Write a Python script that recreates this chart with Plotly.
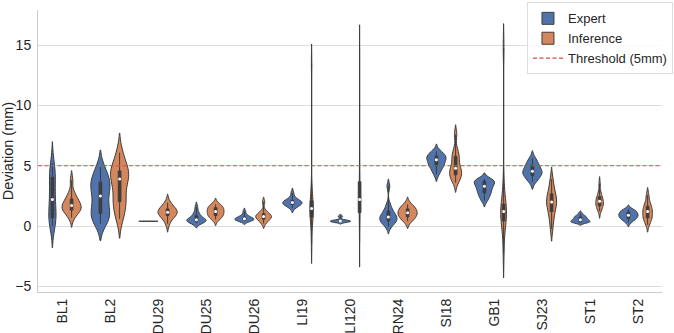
import numpy as np
import plotly.graph_objects as go

categories = ["BL1", "BL2", "DU29", "DU25", "DU26", "LI19", "LI120", "RN24",
              "SI18", "GB1", "SJ23", "ST1", "ST2"]

expert = {
    "BL1": [0.0, 0.4, 0.6, 0.7, 1.2, 1.8, 2.2, 2.7, 3.3, 4.0, 4.2, 4.7, 5.2],
    "BL2": [0.2, 0.5, 0.9, 1.1, 1.5, 2.0, 2.5, 2.9, 3.3, 3.6, 3.8, 4.3, 4.9],
    "DU29": [0.4, 0.4, 0.4, 0.4, 0.4, 0.4, 0.4, 0.4],
    "DU25": [0.25, 0.3, 0.35, 0.4, 0.45, 0.5, 0.5, 0.55, 0.6, 0.7, 0.85, 1.0, 1.2, 1.6],
    "DU26": [0.45, 0.45, 0.5, 0.5, 0.55, 0.6, 0.6, 0.65, 0.7, 0.8, 0.9, 1.2],
    "LI19": [1.5, 1.65, 1.75, 1.8, 1.85, 1.9, 1.95, 2.0, 2.05, 2.1, 2.2, 2.35, 2.75],
    "LI120": [0.3, 0.33, 0.36, 0.38, 0.4, 0.41, 0.43, 0.45, 0.48, 0.52, 0.75, 0.85],
    "RN24": [-0.05, 0.2, 0.35, 0.45, 0.55, 0.65, 0.75, 0.85, 1.0, 1.2, 1.4, 1.8, 3.3],
    "SI18": [4.3, 4.6, 4.9, 5.0, 5.1, 5.3, 5.5, 5.55, 5.65, 5.8, 5.9, 6.0, 6.2],
    "GB1": [2.1, 2.4, 2.6, 2.8, 2.95, 3.1, 3.3, 3.4, 3.5, 3.7, 3.75, 3.8, 3.9],
    "SJ23": [3.65, 3.9, 4.1, 4.2, 4.35, 4.45, 4.55, 4.65, 4.8, 5.0, 5.15, 5.35, 5.65],
    "ST1": [0.27, 0.3, 0.33, 0.36, 0.4, 0.45, 0.5, 0.55, 0.6, 0.68, 0.75, 0.8, 0.88, 1.06],
    "ST2": [0.31, 0.5, 0.6, 0.65, 0.75, 0.85, 0.9, 0.95, 1.05, 1.15, 1.2, 1.3, 1.39],
}

inference = {
    "BL1": [0.7, 1.0, 1.2, 1.3, 1.4, 1.5, 1.6, 1.7, 1.8, 1.9, 2.1, 2.3, 2.5, 2.8, 3.8],
    "BL2": [0.6, 1.2, 1.8, 2.1, 2.6, 3.2, 3.9, 4.1, 4.3, 4.5, 4.8, 5.4, 6.1],
    "DU29": [0.2, 0.6, 0.8, 0.9, 1.0, 1.1, 1.15, 1.2, 1.3, 1.4, 1.5, 1.7, 1.95],
    "DU25": [0.55, 0.7, 0.8, 0.9, 1.0, 1.1, 1.2, 1.3, 1.4, 1.5, 1.6, 1.7, 1.8],
    "DU26": [0.2, 0.4, 0.5, 0.6, 0.7, 0.75, 0.8, 0.85, 0.9, 1.0, 1.1, 1.3, 2.0],
    "LI19": [-1.5, 0.0, 0.6, 0.8, 1.0, 1.2, 1.45, 1.6, 1.8, 2.0, 2.4, 3.2, 13.5],
    "LI120": [-1.4, 0.3, 0.9, 1.2, 1.6, 2.0, 2.2, 2.6, 3.0, 3.4, 4.5, 6.0, 14.7],
    "RN24": [0.4, 0.55, 0.7, 0.8, 0.9, 1.0, 1.1, 1.2, 1.3, 1.4, 1.5, 1.65, 1.8],
    "SI18": [3.6, 3.9, 4.1, 4.3, 4.4, 4.6, 4.8, 5.0, 5.4, 5.75, 5.9, 6.4, 7.6],
    "GB1": [-2.3, -0.5, 0.2, 0.5, 0.8, 1.0, 1.2, 1.35, 1.5, 1.7, 2.2, 3.5, 14.8],
    "SJ23": [-0.25, 0.5, 0.9, 1.3, 1.6, 1.8, 2.0, 2.15, 2.35, 2.6, 2.9, 3.3, 3.9],
    "ST1": [1.25, 1.45, 1.6, 1.7, 1.8, 1.95, 2.05, 2.1, 2.2, 2.4, 2.55, 2.8, 3.5],
    "ST2": [0.1, 0.4, 0.6, 0.7, 0.85, 1.0, 1.2, 1.3, 1.45, 1.6, 1.8, 2.1, 2.6],
}

threshold = 5.0

# style: KDE bandwidths and violin widths (data units)
bw_expert = [0.9, 0.7, 0.01, 0.2, 0.15, 0.2, 0.07, 0.3, 0.3, 0.25, 0.3, 0.1, 0.18]
bw_infer = [0.4, 0.8, 0.35, 0.25, 0.2, 0.8, 1.0, 0.3, 0.4, 1.0, 0.5, 0.3, 0.3]
w_expert = [0.15, 0.4, 0.4, 0.4, 0.4, 0.4, 0.42, 0.36, 0.4, 0.42, 0.4, 0.4, 0.4]
w_infer = [0.4, 0.38, 0.4, 0.35, 0.33, 0.07, 0.02, 0.4, 0.25, 0.12, 0.21, 0.16, 0.2]

BLUE = "#5073AC"
ORANGE = "#D4865C"
EDGE = "#3d3d3d"
INNER = "#3d3d3d"
FONT = "Liberation Sans, Arial, sans-serif"

fig = go.Figure()

groups = [("Expert", expert, BLUE, -0.2, bw_expert, w_expert),
          ("Inference", inference, ORANGE, 0.2, bw_infer, w_infer)]

for name, data, color, off, bws, ws in groups:
    for i, cat in enumerate(categories):
        vals = data[cat]
        fig.add_trace(go.Violin(
            y=vals, x0=i + off, name=name, legendgroup=name,
            showlegend=(i == 0), fillcolor=color, opacity=1,
            line=dict(color=EDGE, width=1),
            bandwidth=bws[i], width=ws[i], scalemode="width",
            spanmode="soft", points=False,
            box_visible=False, meanline_visible=False,
            hoverinfo="skip",
        ))

# inner boxes (IQR + whiskers) and median dots
for name, data, color, off, bws, ws in groups:
    meds_x, meds_y = [], []
    for i, cat in enumerate(categories):
        vals = data[cat]
        if np.ptp(vals) == 0:
            continue
        fig.add_trace(go.Box(
            y=vals, x0=i + off, width=0.055, fillcolor=INNER,
            line=dict(color=INNER, width=1), whiskerwidth=0,
            boxpoints=False, showlegend=False, hoverinfo="skip",
            quartilemethod="linear",
        ))
        meds_x.append(i + off)
        meds_y.append(float(np.median(vals)))
    fig.add_trace(go.Scatter(
        x=meds_x, y=meds_y, mode="markers",
        marker=dict(color="white", size=3, line=dict(width=0)),
        showlegend=False, hoverinfo="skip",
    ))

fig.add_trace(go.Scatter(
    x=[-0.5, len(categories) - 0.5], y=[threshold, threshold], mode="lines",
    line=dict(color="#E0474C", width=1.1, dash="4px,2.5px"),
    name="Threshold (5mm)", hoverinfo="skip",
))

fig.update_layout(
    width=674, height=333,
    margin=dict(l=38, r=12, t=10, b=41, autoexpand=False),
    paper_bgcolor="white", plot_bgcolor="white",
    font=dict(family=FONT, color="#262626", size=13),
    violinmode="overlay", boxmode="overlay",
    legend=dict(
        x=1.0176, y=1.027, xanchor="right", yanchor="top",
        bgcolor="rgba(255,255,255,0.85)", bordercolor="#dddddd", borderwidth=1,
        font=dict(size=13, family=FONT, color="#262626"),
        itemwidth=30, tracegroupgap=0,
    ),
    showlegend=True,
)

fig.update_xaxes(
    range=[-0.5, len(categories) - 0.5],
    tickmode="array", tickvals=list(range(len(categories))), ticktext=categories,
    tickangle=-90, showgrid=False, zeroline=False, automargin=False,
    showline=True, linecolor="#cccccc", linewidth=1,
    ticks="", tickfont=dict(size=14, family=FONT, color="#262626"),
)
fig.update_yaxes(
    range=[-5.47, 17.93], automargin=False,
    tickmode="array", tickvals=[-5, 0, 5, 10, 15],
    showgrid=True, gridcolor="#dcdcdc", gridwidth=1, zeroline=False,
    showline=True, linecolor="#cccccc", linewidth=1,
    ticks="", ticklabelstandoff=3,
    tickfont=dict(size=14, family=FONT, color="#262626"),
    title=dict(text="Deviation (mm)", font=dict(size=14.5, family=FONT, color="#262626")),
)

fig.write_html("out.html", config={"displayModeBar": False},
               post_script="document.body.style.margin='0px';document.body.style.overflow='hidden';")
